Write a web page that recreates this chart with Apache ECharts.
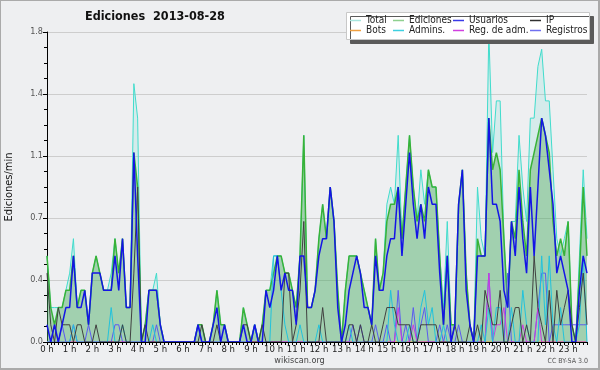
<!DOCTYPE html>
<html><head><meta charset="utf-8">
<script src="https://cdn.jsdelivr.net/npm/echarts@6/dist/echarts.min.js"></script>
<style>
html,body{margin:0;padding:0;background:#eeeff1;}
#c{width:600px;height:370px;box-sizing:border-box;border:1px solid #aaa;border-right-width:2px;border-bottom-width:2px;background:#eeeff1;}
</style></head><body>
<div id="c"></div>
<script>
// 10-minute bins, 0:00 .. 23:50 (144 values), edits per minute
const hourLabels = Array.from({length: 24}, (_, h) => h + ' h');
const seriesNames = ['Total', 'Ediciones', 'Usuarios', 'IP', 'Bots', 'Admins.', 'Reg. de adm.', 'Registros'];

const total = [
0.5,0.2,0.2,0.2,0.2,0.3,0.4,0.6,0.2,0.3,0.3,0.1,
0.4,0.5,0.4,0.3,0.3,0.4,0.6,0.4,0.6,0.2,0.2,1.5,
1.3,0,0.1,0.3,0.3,0.4,0.1,0,0,0,0,0,
0,0,0,0,0.1,0.1,0,0,0.1,0.3,0.1,0.1,
0,0,0,0,0.2,0.1,0,0.1,0,0.1,0.3,0.3,
0.5,0.5,0.5,0.4,0.4,0.3,0.2,0.5,1.2,0.2,0.2,0.3,
0.6,0.8,0.6,0.9,0.7,0.3,0,0.3,0.5,0.5,0.5,0.4,
0.3,0.2,0.1,0.6,0.3,0.4,0.8,0.9,0.8,1.2,0.6,0.9,
1.2,0.9,0.7,1.0,0.8,1.0,0.9,0.9,0.5,0.2,0.7,0.1,
0.1,0.8,1.0,0.4,0.1,0,0.9,0.6,0.5,1.8,1.1,1.4,
1.4,0.6,0.2,0.7,0.7,1.2,0.9,0.7,1.3,1.3,1.6,1.7,
1.4,1.4,1.0,0.6,0.5,0.6,0.7,0.1,0,0.5,1.0,0.6];

const ediciones = [
0.5,0.2,0.1,0.2,0.2,0.3,0.3,0.5,0.2,0.3,0.3,0.1,
0.4,0.5,0.4,0.3,0.3,0.3,0.6,0.4,0.6,0.2,0.2,1.1,
0.9,0,0.1,0.3,0.3,0.3,0.1,0,0,0,0,0,
0,0,0,0,0.1,0.1,0,0,0.1,0.3,0.1,0.1,
0,0,0,0,0.2,0.1,0,0.1,0,0.1,0.3,0.3,
0.4,0.5,0.5,0.4,0.4,0.3,0.2,0.5,1.2,0.2,0.2,0.3,
0.6,0.8,0.6,0.9,0.7,0.3,0,0.3,0.5,0.5,0.5,0.4,
0.3,0.2,0.1,0.6,0.3,0.4,0.7,0.8,0.8,0.9,0.6,0.9,
1.2,0.9,0.7,0.8,0.7,1.0,0.9,0.9,0.5,0.1,0.5,0.1,
0.1,0.8,1.0,0.4,0.1,0,0.6,0.5,0.5,1.3,1.0,1.1,
1.0,0.6,0.2,0.7,0.6,1.0,0.7,0.5,1.0,1.1,1.2,1.3,
1.2,1.1,0.7,0.5,0.6,0.5,0.7,0.1,0,0.4,0.9,0.5];

const usuarios = [
0.1,0,0.1,0,0.1,0.2,0.2,0.5,0.2,0.2,0.3,0.1,
0.4,0.4,0.4,0.3,0.3,0.3,0.5,0.3,0.6,0.2,0.2,1.1,
0.5,0,0,0.3,0.3,0.3,0.1,0,0,0,0,0,
0,0,0,0,0.1,0,0,0,0.1,0.2,0,0.1,
0,0,0,0,0.1,0,0,0.1,0,0,0.3,0.2,
0.3,0.5,0.3,0.4,0.3,0.3,0.1,0.5,0.5,0.2,0.2,0.3,
0.5,0.6,0.6,0.9,0.7,0.2,0,0.1,0.3,0.4,0.5,0.4,
0.2,0.2,0.1,0.5,0.3,0.3,0.5,0.6,0.6,0.9,0.5,0.8,
1.1,0.8,0.6,0.8,0.6,0.9,0.8,0.8,0.4,0.1,0.5,0,
0.1,0.8,1.0,0.3,0.1,0,0.5,0.5,0.5,1.3,0.8,0.8,
0.7,0.3,0.2,0.7,0.5,0.9,0.6,0.4,0.9,0.5,0.9,1.3,
1.2,1.0,0.8,0.4,0.5,0.4,0.3,0,0,0.3,0.5,0.4];

const ip = [
0.4,0.1,0,0.2,0.1,0.1,0.1,0,0.1,0.1,0,0,
0,0.1,0,0,0,0,0,0,0.1,0,0,0.4,
0.9,0,0.1,0,0,0,0,0,0,0,0,0,
0,0,0,0,0,0.1,0,0,0,0.1,0,0,
0,0,0,0,0.1,0.1,0,0,0,0.1,0,0,
0,0,0,0.4,0.4,0,0.1,0.3,0.7,0,0,0,
0,0.2,0,0,0,0,0,0,0.1,0.1,0,0.1,
0,0,0.1,0,0,0.1,0.2,0.2,0.2,0.1,0.1,0.1,
0.1,0,0,0.1,0.1,0.1,0.1,0.1,0,0,0,0,
0.1,0,0,0,0.1,0,0.1,0,0.3,0.2,0.1,0.1,
0.3,0,0,0.1,0.2,0.2,0,0.1,0,0.5,0.2,0.1,
0,0.3,0,0.3,0.1,0.2,0.3,0.1,0,0.2,0.4,0.1];

const bots = [
0,0,0,0,0,0,0,0,0,0,0,0, 0,0,0,0,0,0,0,0,0,0,0,0,
0,0,0,0,0,0,0,0,0,0,0,0, 0,0,0,0,0,0,0,0,0,0,0,0,
0,0,0,0,0,0,0,0,0,0,0,0, 0,0,0,0,0,0,0,0,0,0,0,0,
0,0,0,0,0,0,0,0,0,0,0,0, 0,0,0,0,0,0,0,0,0,0,0,0,
0,0,0,0,0,0,0,0,0,0,0,0, 0,0,0,0,0,0,0,0,0,0,0,0,
0,0,0,0,0,0,0,0,0,0,0,0, 0,0,0,0,0,0,0,0,0,0,0,0];

const admins = [
0,0,0,0,0,0,0,0.1,0,0,0,0,
0,0,0,0,0,0.2,0,0,0.1,0,0,0,
0,0,0,0,0.1,0,0,0,0,0,0,0,
0,0,0,0,0,0,0,0,0,0,0,0,
0,0,0,0,0,0,0,0.1,0,0,0,0,
0.5,0.5,0.3,0.1,0,0,0,0.1,0,0,0,0,
0.1,0,0,0,0,0,0,0,0.1,0,0,0,
0,0,0,0,0,0,0,0.3,0.1,0,0,0,
0.1,0,0,0.2,0.3,0.1,0.2,0,0,0.1,0,0,
0,0,0,0,0,0,0,0.1,0,0.2,0,0.2,
0.2,0,0,0.2,0,0,0.3,0.1,0,0,0,0.5,
0.1,0.5,0.1,0,0.2,0,0,0,0,0.1,0.5,0];

const regAdm = [
0,0,0,0,0,0,0,0,0,0,0,0, 0,0,0,0,0,0,0,0,0,0,0,0,
0,0,0,0,0,0,0,0,0,0,0,0, 0,0,0,0,0,0,0,0,0,0,0,0,
0,0,0,0,0,0,0,0,0,0,0,0, 0,0,0,0,0,0,0,0,0,0,0,0,
0,0,0,0,0,0,0,0,0,0,0,0,
0,0,0,0,0,0,0,0,0,0.2,0,0,
0,0.1,0,0,0,0,0,0,0,0,0,0,
0,0,0,0,0,0,0,0,0,0.4,0,0.1,
0.1,0.2,0,0,0,0,0.1,0,0,0,0.2,0,
0,0,0,0,0,0,0,0,0,0,0,0];

const registros = [
0,0,0.1,0,0.1,0,0,0.1,0,0,0,0.1,
0,0,0,0,0,0,0.1,0.1,0,0,0,0,
0,0,0,0,0,0.1,0,0,0,0,0,0,
0,0,0,0,0.1,0,0,0,0,0,0,0,
0,0,0,0,0,0,0,0.1,0,0,0,0,
0,0,0,0,0,0,0,0,0,0,0,0,
0,0,0,0,0,0,0,0,0,0.1,0,0.1,
0,0,0,0.1,0,0,0.1,0,0,0.3,0,0.1,
0,0.2,0,0.1,0.2,0,0,0,0.1,0,0.1,0,
0,0.1,0,0,0,0,0,0,0,0.4,0,0,
0,0,0.4,0,0,0,0,0,0,0,0.2,0.4,
0.4,0,0.1,0.1,0.1,0.1,0.1,0.1,0.1,0.1,0.1,0.1];

const F = '"DejaVu Sans Condensed", "DejaVu Sans", sans-serif';
const chart = echarts.init(document.getElementById('c'), null, {renderer: 'canvas'});
const pts = arr => arr.map((v, i) => [i, v]);

const colors = {
  'Total': '#40dccc', 'Ediciones': '#38b238', 'Usuarios': '#1414e6', 'IP': '#404040',
  'Bots': '#f0a030', 'Admins.': '#22c2dc', 'Reg. de adm.': '#cc3ae0', 'Registros': '#5a5af0'
};
const legendColors = {
  'Total': '#a8e6de', 'Ediciones': '#8fd08f', 'Usuarios': '#3a3ae8', 'IP': '#303030',
  'Bots': '#f0a040', 'Admins.': '#3ed0e0', 'Reg. de adm.': '#d040e0', 'Registros': '#7070f0'
};
const values = {
  'Total': total, 'Ediciones': ediciones, 'Usuarios': usuarios, 'IP': ip,
  'Bots': bots, 'Admins.': admins, 'Reg. de adm.': regAdm, 'Registros': registros
};
const drawOrder = ['Total', 'Ediciones', 'Bots', 'Registros', 'Reg. de adm.', 'Admins.', 'IP', 'Usuarios'];
const widths = {'Ediciones': 1.5, 'Usuarios': 1.5};

const series = drawOrder.map(name => {
  const s = {
    name, type: 'line', data: pts(values[name]), showSymbol: false, symbol: 'none',
    lineStyle: {color: colors[name], width: widths[name] || 1},
    itemStyle: {color: colors[name]}, animation: false, z: 2
  };
  if (name === 'Total') s.areaStyle = {color: 'rgba(64,216,200,0.2)'};
  if (name === 'Ediciones') s.areaStyle = {color: 'rgba(66,160,66,0.5)'};
  return s;
});

const legCols = [349, 392, 452, 529];
const legRows = [14.5, 24.5];
const legendLayout = [['Total', 'Bots'], ['Ediciones', 'Admins.'], ['Usuarios', 'Reg. de adm.'], ['IP', 'Registros']];
const legends = [];
legendLayout.forEach((col, ci) => col.forEach((name, ri) => {
  legends.push({
    left: legCols[ci], top: legRows[ri], padding: 0, itemWidth: 11, itemHeight: 1.5,
    icon: 'rect', selectedMode: false, z: 20,
    data: [{name, itemStyle: {color: legendColors[name]}}],
    textStyle: {fontFamily: F, fontSize: 10, color: '#222', lineHeight: 10}
  });
}));

chart.setOption({
  animation: false,
  backgroundColor: '#eeeff1',
  title: {
    text: 'Ediciones  2013-08-28', left: 84, top: 9, padding: 0,
    textStyle: {fontFamily: F, fontSize: 12.5, fontWeight: 'bold', color: '#111'}
  },
  legend: legends,
  graphic: [
    {type: 'rect', z: 10, shape: {x: 345.5, y: 11.5, width: 243, height: 27},
     style: {fill: '#ffffff', stroke: '#c8c8c8', lineWidth: 1,
             shadowColor: '#5a5a5a', shadowOffsetX: 4, shadowOffsetY: 4, shadowBlur: 0}},
    {type: 'text', left: 'center', top: 355, z: 10,
     style: {text: 'wikiscan.org', fontFamily: F, fontSize: 9, fill: '#444'}},
    {type: 'text', right: 10, top: 357, z: 10,
     style: {text: 'CC BY-SA 3.0', fontFamily: F, fontSize: 7, fill: '#555'}}
  ],
  grid: {left: 46, right: 11, top: 31, bottom: 26, containLabel: false, outerBoundsMode: 'none'},
  xAxis: {
    type: 'value', min: 0, max: 143, interval: 1, z: 3,
    axisLine: {show: true, lineStyle: {color: '#000', width: 1}},
    axisTick: {show: true, length: 3, lineStyle: {color: '#000'}},
    splitLine: {show: false},
    axisLabel: {
      fontFamily: F, fontSize: 9.5, color: '#222', margin: 3, showMaxLabel: true, showMinLabel: true,
      formatter: v => (v % 6 === 0 ? hourLabels[v / 6] : '')
    }
  },
  yAxis: {
    type: 'value', min: 0, max: 1.8, interval: 0.36,
    name: 'Ediciones/min', nameLocation: 'middle', nameGap: 32, nameRotate: 90,
    nameTextStyle: {fontFamily: F, fontSize: 11, color: '#111'},
    axisLine: {show: true, lineStyle: {color: '#000', width: 1}},
    axisTick: {show: true, length: 4, lineStyle: {color: '#000'}},
    minorTick: {show: true, splitNumber: 4, length: 3, lineStyle: {color: '#000'}},
    splitLine: {show: true, lineStyle: {color: '#cdcdcd', width: 1}},
    axisLabel: {fontFamily: F, fontSize: 9, color: '#555', margin: 4, formatter: v => v.toFixed(1)}
  },
  series
});
</script>
</body></html>
